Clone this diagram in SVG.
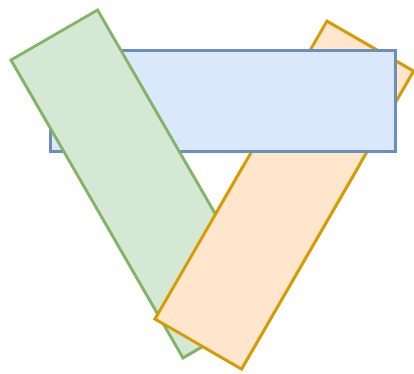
<svg xmlns="http://www.w3.org/2000/svg" width="414" height="374" viewBox="0 0 414 374">
<style>
.s{stroke-width:3;stroke-linejoin:miter}
.g{fill:#d5e8d4;stroke:#82b366}
.b{fill:#dae8fc;stroke:#6c8ebf}
.o{fill:#ffe6cc;stroke:#d79b00}
</style>
<defs>
<clipPath id="low"><rect x="0" y="165" width="414" height="209"/></clipPath>
<polygon id="orangeShape" points="155,319 327,21.1 413.6,71.1 241.6,369"/>
</defs>
<rect width="414" height="374" fill="#ffffff"/>
<g id="orange">
<use href="#orangeShape" class="s o"/>
</g>
<g id="blue">
<rect class="s b" x="50.5" y="50.5" width="345" height="101"/>
</g>
<g id="green">
<polygon class="s g" points="11,60 97.6,10 269.6,307.9 183,357.9"/>
</g>
<g id="orange-front" clip-path="url(#low)">
<use href="#orangeShape" class="s o"/>
</g>
<g id="connectors"/>
</svg>
